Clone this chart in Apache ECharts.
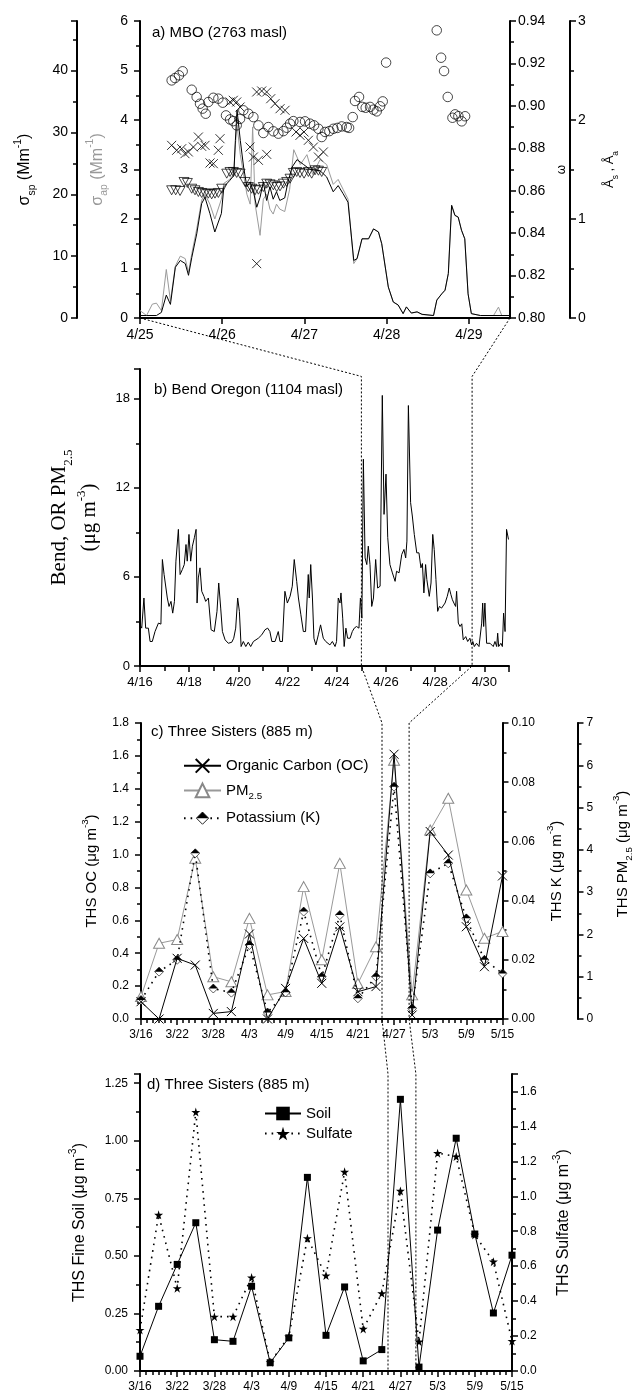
<!DOCTYPE html>
<html><head><meta charset="utf-8">
<script src="https://cdn.jsdelivr.net/npm/echarts@6/dist/echarts.min.js"></script>
<style>html,body{margin:0;padding:0;background:#fff}#c{width:642px;height:1393px}</style>
</head><body><div id="c"></div><script>
// ---------------- DATA ----------------
// Panel a: MBO, time in days after 4/25 00:00
const mboDayLabels = ['4/25','4/26','4/27','4/28','4/29'];
const sigmaSpT = [0,0.08,0.20,0.26,0.32,0.37,0.43,0.49,0.55,0.59,0.63,0.69,0.75,0.79,0.85,0.91,0.99,1.02,1.09,1.14,1.16,1.18,1.22,1.26,1.30,1.34,1.38,1.42,1.46,1.50,1.54,1.58,1.62,1.66,1.70,1.76,1.80,1.85,1.91,1.99,2.07,2.19,2.27,2.35,2.41,2.47,2.53,2.60,2.64,2.70,2.78,2.84,2.90,2.94,3.02,3.08,3.14,3.20,3.24,3.30,3.37,3.43,3.57,3.61,3.67,3.71,3.75,3.79,3.83,3.87,3.91,3.95,3.99,4.03,4.14,4.50];
const sigmaSpV = [0.4,0.4,0.4,0.9,3.7,2.2,8.2,9.3,8.8,6.9,9.8,13.6,18.5,19.5,16.9,13.9,16.9,21.2,22.2,23.0,28.7,33.6,28.7,24.4,21.2,22.0,20.4,17.9,19.5,22.0,19.0,21.2,19.2,20.4,19.0,19.4,22.0,24.4,25.6,24.8,24.0,23.8,22.8,20.4,21.4,20.1,18.7,9.3,9.6,12.8,12.8,14.4,13.9,12.0,5.0,2.6,2.1,0.7,1.8,0.8,1.0,0.6,0.4,2.9,3.9,4.5,7.2,18.2,16.6,16.3,14.2,12.8,3.9,0.7,0.4,0.4];
const sigmaApT = [0,0.08,0.15,0.20,0.26,0.32,0.37,0.43,0.49,0.55,0.59,0.63,0.69,0.75,0.79,0.85,0.91,0.99,1.02,1.09,1.14,1.16,1.18,1.22,1.26,1.30,1.34,1.37,1.40,1.46,1.50,1.54,1.58,1.62,1.66,1.70,1.76,1.82,1.87,1.95,2.03,2.10,2.19,2.27,2.35,2.41,2.47,2.53,2.60,2.64,2.70,2.78,2.84,2.90,2.94,3.02,3.08,3.14,3.20,3.24,3.30,3.37,3.43,3.57,3.61,3.67,3.71,3.75,3.79,3.83,3.87,3.91,3.95,3.99,4.03,4.14,4.30,4.36,4.40,4.50];
const sigmaApV = [0.15,0.05,0.28,0.30,0.15,0.98,0.35,1.05,1.25,1.2,0.92,1.3,1.8,2.38,2.5,2.3,2.0,2.4,2.72,2.8,2.9,3.5,3.9,3.3,2.9,2.5,2.3,3.86,2.3,1.67,2.4,2.5,2.2,2.1,2.3,2.2,2.15,2.6,3.4,3.1,3.3,2.9,3.2,3.1,2.7,2.8,2.6,2.4,1.1,1.2,1.6,1.6,1.8,1.74,1.5,0.63,0.32,0.26,0.09,0.22,0.1,0.12,0.07,0.05,0.36,0.49,0.56,0.9,2.28,2.07,2.04,1.77,1.6,0.49,0.09,0.05,0.05,0.22,0.05,0.05];
const omegaT = [0.385,0.426,0.474,0.519,0.629,0.689,0.730,0.762,0.799,0.831,0.892,0.953,1.006,1.046,1.095,1.135,1.176,1.217,1.257,1.318,1.379,1.440,1.500,1.561,1.622,1.683,1.744,1.784,1.825,1.865,1.946,2.007,2.068,2.117,2.170,2.210,2.251,2.303,2.352,2.400,2.453,2.514,2.543,2.587,2.615,2.664,2.704,2.745,2.798,2.839,2.879,2.920,2.952,2.993,3.609,3.662,3.698,3.743,3.800,3.832,3.872,3.913,3.954];
const omegaV = [0.9120,0.9131,0.9144,0.9163,0.9076,0.9042,0.9010,0.8987,0.8963,0.9018,0.9038,0.9034,0.9015,0.8955,0.8936,0.8928,0.8908,0.8939,0.8979,0.8963,0.8947,0.8908,0.8872,0.8900,0.8880,0.8869,0.8881,0.8897,0.8916,0.8928,0.8924,0.8927,0.8916,0.8908,0.8892,0.8853,0.8877,0.8881,0.8892,0.8896,0.8903,0.8900,0.8896,0.8947,0.9023,0.9042,0.8995,0.8991,0.8995,0.8982,0.8974,0.8998,0.9021,0.9204,0.9356,0.9227,0.9164,0.9042,0.8944,0.8960,0.8951,0.8927,0.8951];
const angST = [0.385,0.446,0.507,0.547,0.588,0.649,0.710,0.750,0.791,0.852,0.892,0.953,0.973,1.095,1.135,1.176,1.217,1.338,1.379,1.440,1.541,1.419,1.419,1.480,1.541,1.590,1.642,1.703,1.764,1.898,1.946,1.995,2.048,2.109,2.170,2.230];
const angSV = [1.744,1.694,1.710,1.660,1.677,1.727,1.828,1.734,1.744,1.566,1.559,1.694,1.811,2.182,2.199,2.182,2.131,1.727,1.626,1.593,1.653,0.549,2.283,2.293,2.283,2.215,2.165,2.114,2.098,1.879,1.845,1.879,1.795,1.727,1.626,1.677];
const angAT = [0.385,0.434,0.487,0.535,0.576,0.629,0.669,0.710,0.750,0.791,0.831,0.872,0.912,0.953,0.994,1.055,1.095,1.135,1.176,1.217,1.277,1.318,1.358,1.399,1.440,1.500,1.541,1.582,1.622,1.663,1.703,1.744,1.784,1.825,1.865,1.906,1.946,1.995,2.048,2.088,2.129,2.170,2.210];
const angAV = [1.290,1.290,1.283,1.374,1.364,1.306,1.290,1.273,1.263,1.256,1.256,1.249,1.256,1.263,1.306,1.458,1.475,1.475,1.465,1.458,1.374,1.323,1.306,1.290,1.296,1.323,1.357,1.350,1.340,1.323,1.330,1.357,1.374,1.407,1.465,1.475,1.465,1.458,1.475,1.458,1.492,1.488,1.475];

// Panel b: Bend PM2.5, time in days after 4/16 00:00
const bendDayLabels = ['4/16','4/18','4/20','4/22','4/24','4/26','4/28','4/30'];
const bendT = [0,0.07,0.16,0.23,0.34,0.41,0.50,0.61,0.75,0.85,0.91,0.98,1.04,1.11,1.18,1.26,1.33,1.40,1.46,1.56,1.63,1.72,1.80,1.87,1.92,1.99,2.06,2.13,2.21,2.28,2.32,2.37,2.44,2.51,2.60,2.67,2.78,2.89,3.02,3.13,3.20,3.28,3.35,3.46,3.59,3.73,3.81,3.89,3.97,4.04,4.11,4.20,4.30,4.40,4.50,4.61,4.67,4.81,4.95,5.08,5.19,5.28,5.36,5.49,5.62,5.69,5.79,5.89,5.99,6.10,6.19,6.27,6.37,6.44,6.54,6.64,6.73,6.84,6.88,6.94,7.01,7.07,7.15,7.25,7.34,7.45,7.55,7.63,7.72,7.82,7.93,7.99,8.06,8.13,8.17,8.24,8.30,8.37,8.44,8.54,8.63,8.71,8.80,8.90,8.96,9.02,9.08,9.15,9.22,9.28,9.35,9.42,9.49,9.58,9.66,9.76,9.85,9.92,10.00,10.07,10.16,10.26,10.37,10.43,10.53,10.64,10.73,10.80,10.85,10.91,11.00,11.07,11.15,11.25,11.34,11.42,11.48,11.54,11.61,11.66,11.76,11.83,11.90,11.96,12.03,12.10,12.17,12.26,12.40,12.49,12.57,12.64,12.70,12.76,12.83,12.87,12.94,13.01,13.08,13.14,13.24,13.32,13.41,13.48,13.53,13.59,13.68,13.78,13.89,13.93,13.97,14.02,14.09,14.23,14.30,14.36,14.43,14.50,14.54,14.58,14.67,14.73,14.78,14.84,14.90,14.98];
const bendV = [2.77,2.55,4.58,2.55,2.55,1.65,1.65,2.32,2.89,2.82,7.17,6.16,6.16,4.58,4.01,4.35,3.56,4.35,7.06,9.20,6.16,6.49,6.83,8.18,7.06,8.86,7.06,8.07,8.64,9.20,4.24,5.93,6.61,5.03,4.69,4.35,4.58,2.44,2.32,3.68,5.59,3.90,2.32,1.76,1.53,1.60,1.87,2.55,4.58,3.68,1.31,1.65,1.31,1.60,1.31,1.65,1.76,1.87,2.10,2.44,2.55,2.32,1.65,1.65,2.32,1.65,1.65,5.03,4.24,4.69,5.37,7.17,5.70,4.58,3.45,2.32,2.32,6.16,4.58,6.83,4.58,1.87,1.42,2.10,2.77,1.87,1.65,1.76,1.42,1.65,1.31,1.65,4.58,4.24,4.92,3.22,1.31,2.55,1.87,1.87,2.32,2.55,2.66,2.55,4.58,3.22,13.93,7.28,6.83,8.07,6.83,4.01,4.58,7.17,5.25,5.37,18.22,10.21,12.92,8.64,6.83,6.27,5.70,6.38,6.27,7.51,7.85,7.28,8.41,17.54,11.0,10.1,8.86,7.62,7.62,6.61,6.9,4.92,6.83,5.82,4.69,5.59,8.86,7.85,5.82,3.68,4.01,3.90,4.24,4.69,5.25,4.80,4.46,4.24,4.01,5.03,2.89,2.66,2.84,1.76,1.98,1.65,1.87,1.42,1.65,1.31,1.53,1.31,2.89,4.24,2.66,4.24,1.53,1.53,1.65,1.31,1.65,1.31,2.21,1.31,1.53,1.31,3.56,2.32,9.20,8.52];

// Panels c, d: Three Sisters IMPROVE samples, day after 3/16
const thsDateLabels = ['3/16','3/22','3/28','4/3','4/9','4/15','4/21','4/27','5/3','5/9','5/15'];
const thsDay = [0,3,6,9,12,15,18,21,24,27,30,33,36,39,42,45,48,51,54,57,60];
const thsOC = [0.105,0.0,0.369,0.328,0.034,0.045,0.517,0.0,0.186,0.49,0.217,0.56,0.166,0.197,1.61,0.024,1.14,0.997,0.561,0.318,0.87];
const thsPM = [0.53,1.79,1.88,3.80,1.00,0.88,2.38,0.57,0.65,3.13,1.40,3.68,0.84,1.71,6.12,0.57,4.47,5.22,3.05,1.91,2.07];
const thsK = [0.0064,0.016,0.020,0.056,0.0103,0.0089,0.025,0.0022,0.009,0.0363,0.0143,0.0351,0.007,0.0143,0.0785,0.0036,0.0492,0.0526,0.034,0.020,0.0154];
const thsSoil = [0.064,0.281,0.463,0.644,0.136,0.129,0.368,0.036,0.144,0.841,0.155,0.365,0.044,0.093,1.18,0.017,0.612,1.011,0.595,0.252,0.503];
const thsSulfate = [0.235,0.894,0.474,1.482,0.311,0.311,0.535,0.05,0.197,0.76,0.546,1.14,0.241,0.445,1.031,0.168,1.247,1.228,0.779,0.626,0.172];

// ---------------- CHART ----------------
const F = '"Liberation Sans", Arial, sans-serif';
const zip = (t, v) => t.map((x, i) => [x, v[i]]);
const chart = echarts.init(document.getElementById('c'), null, {renderer: 'canvas'});

const XPATH = 'path://M0,0L10,10M10,0L0,10';
const STAR = 'path://M50,0L61,35L98,35L68,57L79,91L50,70L21,91L32,57L2,35L39,35Z';
const halfDiamondSvg = "<svg xmlns='http://www.w3.org/2000/svg' width='40' height='40' viewBox='0 0 40 40'><path d='M20,2 L38,20 L20,38 L2,20 Z' fill='white' stroke='black' stroke-width='2.5'/><path d='M20,2 L38,20 L2,20 Z' fill='black'/></svg>";
const HALFDIAMOND = 'image://data:image/svg+xml;charset=utf-8,' + encodeURIComponent(halfDiamondSvg);

function rich(size, color) {
  return {
    n: {fontSize: size, fontFamily: F, color: color, lineHeight: size * 1.5},
    sub: {fontSize: size * 0.65, fontFamily: F, color: color, verticalAlign: 'bottom', lineHeight: size * 1.5},
    sup: {fontSize: size * 0.65, fontFamily: F, color: color, verticalAlign: 'top', lineHeight: size * 1.5}
  };
}
const serifRich = {
  n: {fontSize: 21, fontFamily: '"Liberation Serif", "Times New Roman", serif', color: '#000', lineHeight: 30},
  sub: {fontSize: 13, fontFamily: '"Liberation Serif", "Times New Roman", serif', color: '#000', verticalAlign: 'bottom', lineHeight: 30},
  sup: {fontSize: 13, fontFamily: '"Liberation Serif", "Times New Roman", serif', color: '#000', verticalAlign: 'top', lineHeight: 30}
};

const axisLine = {show: true, onZero: false, lineStyle: {color: '#000', width: 2}};
const tick = (len) => ({show: true, length: len || 6, lineStyle: {color: '#000', width: 1.5}});
const minor = (n, len) => ({show: true, splitNumber: n, length: len || 4, lineStyle: {color: '#000', width: 1.5}});
const lab = (size, margin, fmt, extra) => Object.assign({color: '#000', fontFamily: F, fontSize: size, margin: margin, formatter: fmt}, extra || {});

const grids = [
  {left: 140, top: 21, width: 370, height: 297},
  {left: 140, top: 369, width: 369, height: 297},
  {left: 141, top: 723, width: 375, height: 296},
  {left: 140, top: 1074, width: 372, height: 297}
];

const xAxes = [
  {gridIndex: 0, type: 'value', min: 0, max: 4.5, interval: 1, axisLine, axisTick: tick(6), splitLine: {show: false},
   axisLabel: lab(14, 10, v => mboDayLabels[Math.round(v)] || '', {showMaxLabel: false})},
  {gridIndex: 1, type: 'value', min: 0, max: 15, interval: 2, axisLine, axisTick: tick(6), minorTick: minor(2, 5), splitLine: {show: false}, minorSplitLine: {show: false},
   axisLabel: lab(13, 10, v => bendDayLabels[Math.round(v / 2)] || '', {showMaxLabel: false})},
  {gridIndex: 2, type: 'value', min: 0, max: 60, interval: 6, axisLine, axisTick: tick(6), minorTick: minor(6, 4), splitLine: {show: false},
   axisLabel: lab(12, 10, v => thsDateLabels[Math.round(v / 6)] || '')},
  {gridIndex: 3, type: 'value', min: 0, max: 60, interval: 6, axisLine, axisTick: tick(6), minorTick: minor(6, 4), splitLine: {show: false},
   axisLabel: lab(12, 10, v => thsDateLabels[Math.round(v / 6)] || '')}
];

const yAxes = [
  // 0 sigma_ap
  {gridIndex: 0, type: 'value', position: 'left', min: 0, max: 6, interval: 1, axisLine, axisTick: tick(6), minorTick: minor(2), splitLine: {show: false},
   axisLabel: lab(14, 12, v => String(v)),
   name: '{n|σ}{sub|ap}{n| (Mm}{sup|-1}{n|)}', nameLocation: 'middle', nameRotate: 90, nameGap: 30,
   nameTextStyle: {rich: rich(16, '#999')}},
  // 1 sigma_sp
  {gridIndex: 0, type: 'value', position: 'left', offset: 63, min: 0, max: 48, interval: 10, axisLine, axisTick: tick(6), minorTick: minor(2), splitLine: {show: false},
   axisLabel: lab(14, 9, v => (v % 10 === 0 ? String(v) : ''), {showMaxLabel: false}),
   name: '{n|σ}{sub|sp}{n| (Mm}{sup|-1}{n|)}', nameLocation: 'middle', nameRotate: 90, nameGap: 40,
   nameTextStyle: {rich: rich(16, '#000')}},
  // 2 omega
  {gridIndex: 0, type: 'value', position: 'right', min: 0.8, max: 0.94, interval: 0.02, axisLine, axisTick: tick(6), minorTick: minor(2), splitLine: {show: false},
   axisLabel: lab(14, 8, v => v.toFixed(2)),
   name: 'ω', nameLocation: 'middle', nameRotate: 90, nameGap: 44,
   nameTextStyle: {color: '#000', fontFamily: F, fontSize: 12}},
  // 3 Angstrom
  {gridIndex: 0, type: 'value', position: 'right', offset: 60, min: 0, max: 3, interval: 1, axisLine, axisTick: tick(6), minorTick: minor(2), splitLine: {show: false},
   axisLabel: lab(14, 8, v => String(v)),
   name: '{n|Å}{sub|s}{n| , Å}{sub|a}', nameLocation: 'middle', nameRotate: 90, nameGap: 30,
   nameTextStyle: {rich: rich(13, '#000')}},
  // 4 Bend
  {gridIndex: 1, type: 'value', min: 0, max: 20, interval: 6, axisLine, axisTick: tick(6), minorTick: minor(2), splitLine: {show: false}, minorSplitLine: {show: false},
   axisLabel: lab(13, 10, v => String(v), {showMaxLabel: false}),
   name: '{n|Bend, OR PM}{sub|2.5}\n{n|(μg m}{sup|-3}{n|)}', nameLocation: 'middle', nameRotate: 90, nameGap: 30,
   nameTextStyle: {rich: serifRich, lineHeight: 30}},
  // 5 OC
  {gridIndex: 2, type: 'value', position: 'left', min: 0, max: 1.8, interval: 0.2, axisLine, axisTick: tick(6), minorTick: minor(2), splitLine: {show: false},
   axisLabel: lab(12, 12, v => v.toFixed(1)),
   name: '{n|THS OC (μg m}{sup|-3}{n|)}', nameLocation: 'middle', nameRotate: 90, nameGap: 38,
   nameTextStyle: {rich: rich(15, '#000')}},
  // 6 K
  {gridIndex: 2, type: 'value', position: 'right', min: 0, max: 0.1, interval: 0.02, axisLine, axisTick: tick(6), minorTick: minor(2), splitLine: {show: false},
   axisLabel: lab(12, 9, v => v.toFixed(2)),
   name: '{n|THS K (μg m}{sup|-3}{n|)}', nameLocation: 'middle', nameRotate: 90, nameGap: 42,
   nameTextStyle: {rich: rich(15, '#000')}},
  // 7 PM2.5
  {gridIndex: 2, type: 'value', position: 'right', offset: 75, min: 0, max: 7, interval: 1, axisLine, axisTick: tick(6), minorTick: minor(2), splitLine: {show: false},
   axisLabel: lab(12, 9, v => String(v)),
   name: '{n|THS PM}{sub|2.5}{n| (μg m}{sup|-3}{n|)}', nameLocation: 'middle', nameRotate: 90, nameGap: 34,
   nameTextStyle: {rich: rich(15, '#000'), padding: [0, 0, 0, 34]}},
  // 8 Soil
  {gridIndex: 3, type: 'value', position: 'left', min: 0, max: 1.29, interval: 0.25, axisLine, axisTick: tick(6), minorTick: minor(2), splitLine: {show: false},
   axisLabel: lab(12, 12, v => v.toFixed(2), {showMaxLabel: false}),
   name: '{n|THS Fine Soil (μg m}{sup|-3}{n|)}', nameLocation: 'middle', nameRotate: 90, nameGap: 48,
   nameTextStyle: {rich: rich(16, '#000')}},
  // 9 Sulfate
  {gridIndex: 3, type: 'value', position: 'right', min: 0, max: 1.7, interval: 0.2, axisLine, axisTick: tick(6), minorTick: minor(2), splitLine: {show: false},
   axisLabel: lab(12, 8, v => v.toFixed(1), {showMaxLabel: false}),
   name: '{n|THS Sulfate (μg m}{sup|-3}{n|)}', nameLocation: 'middle', nameRotate: 90, nameGap: 40,
   nameTextStyle: {rich: rich(16, '#000')}}
];

const openStyle = {color: 'rgba(255,255,255,0)', borderColor: '#000', borderWidth: 0.9};

const series = [
  // Panel a
  {name: 'σap', type: 'line', xAxisIndex: 0, yAxisIndex: 0, data: zip(sigmaApT, sigmaApV), showSymbol: false, symbol: 'none',
   lineStyle: {color: '#9a9a9a', width: 1}, z: 2},
  {name: 'σsp', type: 'line', xAxisIndex: 0, yAxisIndex: 1, data: zip(sigmaSpT, sigmaSpV), showSymbol: false, symbol: 'none',
   lineStyle: {color: '#000', width: 1}, z: 3},
  {name: 'ω', type: 'scatter', xAxisIndex: 0, yAxisIndex: 2, data: zip(omegaT, omegaV), symbol: 'circle', symbolSize: 9.5,
   itemStyle: openStyle, z: 4},
  {name: 'Ås', type: 'scatter', xAxisIndex: 0, yAxisIndex: 3, data: zip(angST, angSV), symbol: XPATH, symbolSize: 9,
   itemStyle: {color: 'rgba(0,0,0,0)', borderColor: '#000', borderWidth: 1}, z: 4},
  {name: 'Åa', type: 'scatter', xAxisIndex: 0, yAxisIndex: 3, data: zip(angAT, angAV), symbol: 'triangle', symbolRotate: 180, symbolSize: [10, 9],
   itemStyle: openStyle, z: 4},
  // Panel b
  {name: 'Bend', type: 'line', xAxisIndex: 1, yAxisIndex: 4, data: zip(bendT, bendV), showSymbol: false, symbol: 'none',
   lineStyle: {color: '#000', width: 1}},
  // Panel c
  {name: 'PM2.5', type: 'line', xAxisIndex: 2, yAxisIndex: 7, data: zip(thsDay, thsPM), symbol: 'triangle', symbolSize: [11, 10],
   lineStyle: {color: '#999', width: 1}, itemStyle: {color: '#fff', borderColor: '#888', borderWidth: 1}, z: 2},
  {name: 'Potassium (K)', type: 'line', xAxisIndex: 2, yAxisIndex: 6, data: zip(thsDay, thsK), symbol: HALFDIAMOND, symbolSize: 10,
   lineStyle: {color: '#000', width: 1.6, type: [1.6, 5]}, itemStyle: {color: '#000'}, z: 3},
  {name: 'Organic Carbon (OC)', type: 'line', xAxisIndex: 2, yAxisIndex: 5, data: zip(thsDay, thsOC), symbol: XPATH, symbolSize: 9,
   lineStyle: {color: '#000', width: 1}, itemStyle: {color: 'rgba(0,0,0,0)', borderColor: '#000', borderWidth: 1}, z: 4},
  // Panel d
  {name: 'Sulfate', type: 'line', xAxisIndex: 3, yAxisIndex: 9, data: zip(thsDay, thsSulfate), symbol: STAR, symbolSize: 9,
   lineStyle: {color: '#000', width: 1.6, type: [1.6, 5]}, itemStyle: {color: '#000'}, z: 3},
  {name: 'Soil', type: 'line', xAxisIndex: 3, yAxisIndex: 8, data: zip(thsDay, thsSoil), symbol: 'rect', symbolSize: 7,
   lineStyle: {color: '#000', width: 1}, itemStyle: {color: '#000'}, z: 4}
];

const legendText = {color: '#000', fontFamily: F, fontSize: 15, rich: rich(15, '#000')};
const option = {
  animation: false,
  backgroundColor: '#fff',
  textStyle: {fontFamily: F},
  title: [
    {text: 'a) MBO (2763 masl)', left: 152, top: 25, padding: 0, textStyle: {fontFamily: F, fontSize: 15, fontWeight: 'normal', color: '#000'}},
    {text: 'b) Bend Oregon (1104 masl)', left: 154, top: 382, padding: 0, textStyle: {fontFamily: F, fontSize: 15, fontWeight: 'normal', color: '#000'}},
    {text: 'c) Three Sisters (885 m)', left: 151, top: 724, padding: 0, textStyle: {fontFamily: F, fontSize: 15, fontWeight: 'normal', color: '#000'}},
    {text: 'd) Three Sisters (885 m)', left: 147, top: 1077, padding: 0, textStyle: {fontFamily: F, fontSize: 15, fontWeight: 'normal', color: '#000'}}
  ],
  legend: [
    {data: ['Organic Carbon (OC)', 'PM2.5', 'Potassium (K)'], orient: 'vertical', left: 183, top: 758, padding: 0,
     itemWidth: 37, itemHeight: 17, itemGap: 9, textStyle: legendText, selectedMode: false,
     formatter: n => n === 'PM2.5' ? '{n|PM}{sub|2.5}' : '{n|' + n + '}'},
    {data: ['Soil', 'Sulfate'], orient: 'vertical', left: 264, top: 1106, padding: 0,
     itemWidth: 36, itemHeight: 17, itemGap: 5, textStyle: legendText, selectedMode: false,
     formatter: n => '{n|' + n + '}'}
  ],
  grid: grids,
  xAxis: xAxes,
  yAxis: yAxes,
  series: series
};
chart.setOption(option);

// dotted zoom connectors, placed through the axes' own scales
const px = (xi, yi, x, y) => chart.convertToPixel({xAxisIndex: xi, yAxisIndex: yi}, [x, y]);
const leftPts = [px(0,0,0,0), px(1,4,9,19.5), px(1,4,9,0), px(2,5,40,1.8), px(2,5,40,0), px(3,8,40,1.29), px(3,8,40,0)];
const rightPts = [px(0,0,4.5,0), px(1,4,13.5,19.5), px(1,4,13.5,0), px(2,5,44.5,1.8), px(2,5,44.5,0), px(3,8,44.5,1.29), px(3,8,44.5,0)];
const conn = pts => ({type: 'polyline', z: 100, silent: true, shape: {points: pts},
  style: {stroke: '#000', lineWidth: 1, lineDash: [2, 2], fill: null}});
chart.setOption({graphic: [conn(leftPts), conn(rightPts)]});
</script></body></html>
